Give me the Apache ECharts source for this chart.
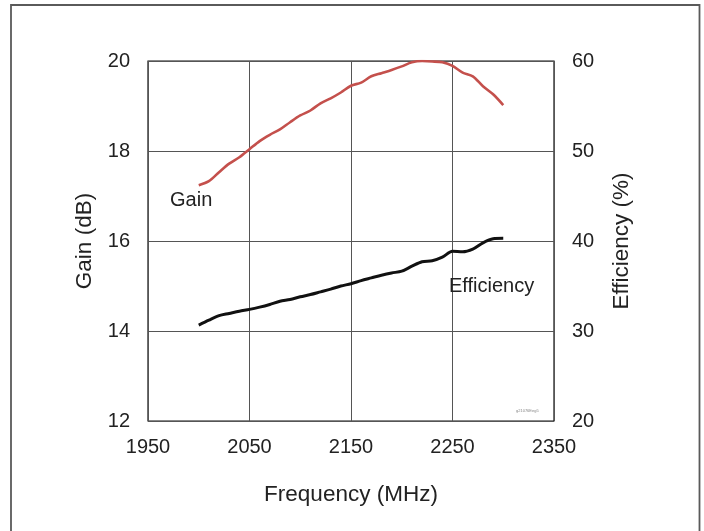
<!DOCTYPE html>
<html>
<head>
<meta charset="utf-8">
<script src="https://cdn.jsdelivr.net/npm/echarts@6/dist/echarts.min.js"></script>
<style>
  html, body { margin: 0; padding: 0; background: #fff; }
  #chart { width: 704px; height: 531px; }
</style>
</head>
<body>
<div id="chart"></div>
<script>
const frequency = [2000, 2010, 2020, 2030, 2040, 2050, 2060, 2070, 2080, 2090, 2100,
                   2110, 2120, 2130, 2140, 2150, 2160, 2170, 2180, 2190, 2200,
                   2210, 2220, 2230, 2240, 2250, 2260, 2270, 2280, 2290, 2300];
const gainDb = [17.24, 17.33, 17.53, 17.72, 17.86, 18.04, 18.22, 18.36, 18.48, 18.64, 18.79,
                18.90, 19.06, 19.17, 19.30, 19.45, 19.52, 19.66, 19.73, 19.80, 19.88,
                19.97, 20.00, 19.99, 19.97, 19.89, 19.74, 19.66, 19.44, 19.26, 19.02];
const efficiencyPct = [30.65, 31.2, 31.7, 31.95, 32.2, 32.4, 32.65, 32.95, 33.3, 33.5, 33.8,
                       34.05, 34.35, 34.65, 35.0, 35.25, 35.6, 35.9, 36.2, 36.45, 36.65,
                       37.2, 37.7, 37.8, 38.2, 38.85, 38.8, 39.1, 39.8, 40.25, 40.3];
const xTicks = [1950, 2050, 2150, 2250, 2350];
const gainTicks = [12, 14, 16, 18, 20];
const effTicks = [20, 30, 40, 50, 60];

const FONT = 'Liberation Sans, Arial, Helvetica, sans-serif';
const chart = echarts.init(document.getElementById('chart'), null, { renderer: 'canvas' });

const gainPairs = frequency.map((f, i) => [f, gainDb[i]]);
const effPairs = frequency.map((f, i) => [f, efficiencyPct[i]]);

chart.setOption({
  animation: false,
  backgroundColor: '#fff',
  grid: { left: 148, right: 150, top: 61, bottom: 110, show: true, borderColor: '#111', borderWidth: 1.2, containLabel: false },
  graphic: [
    { type: 'rect', shape: { x: 11, y: 5, width: 688.5, height: 540 }, style: { fill: 'none', stroke: '#5a5a5a', lineWidth: 1.8 }, silent: true },
    { type: 'text', x: 516, y: 409, style: { text: 'g21076Eeg5', font: '4px ' + FONT, fill: '#888' }, silent: true }
  ],
  xAxis: {
    type: 'value', min: xTicks[0], max: xTicks[xTicks.length - 1], interval: 100,
    name: 'Frequency (MHz)', nameLocation: 'middle', nameGap: 62,
    nameTextStyle: { fontFamily: FONT, fontSize: 22.5, color: '#222' },
    axisLine: { show: false }, axisTick: { show: false },
    axisLabel: { fontFamily: FONT, fontSize: 20, color: '#222', margin: 16, formatter: v => String(v) },
    splitLine: { show: true, lineStyle: { color: '#555', width: 1 } }
  },
  yAxis: [
    {
      type: 'value', min: gainTicks[0], max: gainTicks[gainTicks.length - 1], interval: 2, position: 'left',
      name: 'Gain (dB)', nameLocation: 'middle', nameGap: 52,
      nameTextStyle: { fontFamily: FONT, fontSize: 22.5, color: '#222' },
      axisLine: { show: false }, axisTick: { show: false },
      axisLabel: { fontFamily: FONT, fontSize: 20, color: '#222', margin: 18, formatter: v => String(v) },
      splitLine: { show: true, lineStyle: { color: '#555', width: 1 } }
    },
    {
      type: 'value', min: effTicks[0], max: effTicks[effTicks.length - 1], interval: 10, position: 'right',
      name: 'Efficiency (%)', nameLocation: 'middle', nameGap: 56, nameRotate: 90,
      nameTextStyle: { fontFamily: FONT, fontSize: 22.5, color: '#222' },
      axisLine: { show: false }, axisTick: { show: false },
      axisLabel: { fontFamily: FONT, fontSize: 20, color: '#222', margin: 18, formatter: v => String(v) },
      splitLine: { show: false }
    }
  ],
  series: [
    {
      name: 'Gain', type: 'line', yAxisIndex: 0, data: gainPairs, showSymbol: false, smooth: 0.3,
      lineStyle: { color: '#c4504c', width: 2.6 },
      markPoint: {
        symbol: 'circle', symbolSize: 0,
        data: [{ coord: [1992.5, 16.9], value: 'Gain' }],
        label: { show: true, position: 'inside', formatter: 'Gain', fontFamily: FONT, fontSize: 20, color: '#222' }
      }
    },
    {
      name: 'Efficiency', type: 'line', yAxisIndex: 1, data: effPairs, showSymbol: false, smooth: 0.3,
      lineStyle: { color: '#111', width: 3 },
      markPoint: {
        symbol: 'circle', symbolSize: 0,
        data: [{ coord: [2288.5, 34.9], value: 'Efficiency' }],
        label: { show: true, position: 'inside', formatter: 'Efficiency', fontFamily: FONT, fontSize: 20, color: '#222' }
      }
    }
  ]
});
</script>
</body>
</html>
